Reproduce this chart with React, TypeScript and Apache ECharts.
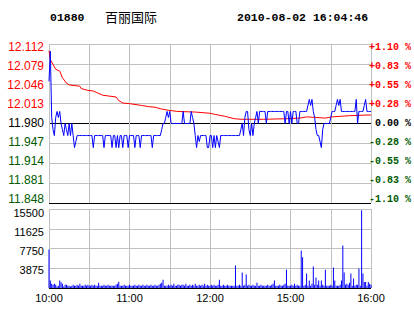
import React, { useEffect, useRef } from "react";
import * as echarts from "echarts";

const stockCode = "01880";
const stockName = "百丽国际";
const timestamp = "2010-08-02 16:04:46";

// minute index from 10:00 (morning 10:00-12:30, afternoon 14:30-16:00)
const timeTickLabels: Record<number, string> = { 0: "10:00", 60: "11:00", 120: "12:00", 180: "15:00", 240: "16:00" };

const priceTickLabels = ["11.848", "11.881", "11.914", "11.947", "11.980", "12.013", "12.046", "12.079", "12.112"];
const pctTickLabels = ["-1.10 %", "-0.83 %", "-0.55 %", "-0.28 %", "\u00a00.00 %", "+0.28 %", "+0.55 %", "+0.83 %", "+1.10 %"];
const volTickLabels = ["", "3875", "7750", "11625", "15500"];

const priceMin = 11.848;
const priceMax = 12.112;
const volMax = 15500;

const price = [
  12.05, 12.10, 11.99, 11.97, 11.96, 11.99, 12.00, 11.99, 12.00, 11.98,
  11.97, 11.96, 11.98, 11.97, 11.96, 11.98, 11.96, 11.98, 11.96, 11.94,
  11.95, 11.96, 11.96, 11.96, 11.96, 11.96, 11.96, 11.96, 11.96, 11.96,
  11.96, 11.96, 11.96, 11.94, 11.96, 11.96, 11.96, 11.96, 11.96, 11.96,
  11.96, 11.94, 11.96, 11.96, 11.96, 11.96, 11.96, 11.94, 11.96, 11.96,
  11.94, 11.96, 11.94, 11.96, 11.96, 11.94, 11.96, 11.96, 11.96, 11.94,
  11.96, 11.96, 11.96, 11.96, 11.94, 11.96, 11.96, 11.96, 11.94, 11.96,
  11.96, 11.96, 11.96, 11.96, 11.96, 11.96, 11.96, 11.94, 11.96, 11.96,
  11.96, 11.96, 11.96, 11.96, 11.97, 11.98, 11.98, 11.99, 12.00, 11.99,
  12.00, 11.98, 11.98, 11.98, 11.98, 11.98, 11.98, 11.98, 11.98, 11.98,
  12.00, 11.98, 11.98, 11.98, 11.98, 11.98, 12.00, 11.99, 11.98, 11.96,
  11.94, 11.96, 11.95, 11.96, 11.96, 11.96, 11.96, 11.96, 11.94, 11.94,
  11.96, 11.96, 11.94, 11.96, 11.94, 11.96, 11.95, 11.94, 11.96, 11.96,
  11.96, 11.96, 11.96, 11.96, 11.96, 11.96, 11.96, 11.96, 11.96, 11.96,
  11.96, 11.96, 11.96, 11.97, 11.98, 11.96, 11.99, 12.00, 12.00, 11.97,
  11.96, 11.98, 11.96, 11.98, 11.99, 12.00, 11.98, 12.00, 12.00, 12.00,
  12.00, 12.00, 11.98, 12.00, 12.00, 12.00, 12.00, 12.00, 12.00, 12.00,
  12.00, 12.00, 12.00, 12.00, 12.00, 12.00, 11.98, 12.00, 12.00, 11.98,
  12.00, 11.98, 12.00, 12.00, 12.00, 11.98, 11.98, 12.00, 12.00, 12.00,
  12.00, 12.00, 12.00, 12.01, 12.02, 12.01, 12.02, 12.00, 11.99, 11.97,
  11.96, 11.96, 11.95, 11.94, 11.97, 11.98, 11.98, 11.98, 11.98, 11.98,
  11.99, 12.00, 12.00, 12.00, 12.01, 12.02, 12.01, 12.02, 12.00, 12.00,
  12.00, 12.00, 12.00, 12.00, 12.00, 12.00, 12.00, 12.00, 12.00, 12.02,
  11.98, 12.00, 12.00, 12.00, 12.00, 12.01, 12.02, 12.00, 12.00, 12.00,
  12.00,
];

const avgMinutes = [0, 1, 3, 5, 8, 10, 13, 15, 23, 24, 29, 33, 36, 40, 50, 52, 55, 60, 69, 74, 79, 84, 89, 96, 109, 120, 124, 131, 138, 143, 160, 178, 187, 192, 206, 211, 224, 236, 240];
const avgPrice = [
  12.101, 12.086, 12.078, 12.07, 12.067, 12.056, 12.047, 12.044, 12.042, 12.038,
  12.035, 12.034, 12.031, 12.027, 12.024, 12.018, 12.014, 12.013, 12.01, 12.008,
  12.007, 12.004, 12.002, 12.0, 11.999, 11.997, 11.995, 11.992, 11.988, 11.987,
  11.987, 11.988, 11.989, 11.991, 11.989, 11.991, 11.993, 11.994, 11.994,
];

const volume = [
  7550, 1450, 850, 660, 850, 660, 300, 460, 1450, 1120,
  850, 300, 660, 660, 460, 460, 300, 460, 660, 460,
  460, 660, 460, 850, 460, 460, 460, 660, 460, 660,
  460, 460, 660, 460, 660, 460, 460, 1050, 460, 460,
  460, 660, 460, 460, 660, 460, 460, 460, 460, 460,
  660, 850, 1250, 460, 460, 460, 660, 460, 460, 460,
  660, 460, 460, 460, 660, 460, 460, 660, 460, 460,
  660, 460, 460, 660, 460, 460, 660, 460, 460, 660,
  460, 460, 660, 850, 1050, 1640, 460, 460, 460, 660,
  460, 660, 460, 850, 460, 460, 660, 660, 460, 660,
  660, 460, 850, 460, 460, 660, 460, 660, 460, 850,
  460, 460, 660, 460, 660, 460, 850, 460, 660, 460,
  460, 660, 460, 660, 460, 460, 660, 1640, 460, 460,
  660, 460, 460, 660, 460, 460, 460, 460, 460, 4400,
  460, 460, 660, 460, 3020, 460, 660, 2630, 460, 660,
  460, 460, 660, 460, 460, 1050, 460, 460, 660, 460,
  460, 460, 460, 660, 460, 460, 660, 850, 1450, 460,
  460, 460, 660, 460, 460, 660, 850, 3600, 460, 460,
  460, 660, 460, 850, 460, 660, 460, 460, 7360, 6050,
  460, 660, 2830, 460, 1450, 460, 850, 4200, 660, 2040,
  660, 1450, 460, 1450, 660, 460, 3600, 460, 460, 460,
  660, 460, 4000, 1450, 460, 460, 460, 660, 1450, 8340,
  3020, 660, 850, 660, 1050, 2830, 460, 1840, 460, 660,
  660, 3810, 460, 15240, 2830, 1180, 1180, 460, 1180, 850,
  660,
];

const RED = "#ff0000";
const GREEN = "#005a00";
const GRID = "#c0c0c0";
const BLUE = "#0000ff";

const colorBySign = (v: any) => {
  const n = Number(v);
  return n > 0 ? RED : n < 0 ? GREEN : "#000000";
};

export default function App() {
  const ref = useRef<HTMLDivElement>(null);
  useEffect(() => {
    if (!ref.current) return;
    const chart = echarts.init(ref.current, undefined, { renderer: "svg" });
    const hiddenAxis = { show: false };
    const lineColors9 = [
      "#000000", GRID, GRID, GRID, "#000000", GRID, GRID, GRID, GRID,
    ];
    chart.setOption({
      animation: false,
      backgroundColor: "#ffffff",
      grid: [
        { left: 49, top: 44, width: 322, height: 159 },
        { left: 49, top: 209, width: 322, height: 79 },
        { left: 49, top: 47, width: 322, height: 152 },
        { left: 49, top: 213, width: 322, height: 76 },
      ],
      xAxis: [
        {
          gridIndex: 0, type: "value", min: 0, max: 240, interval: 30,
          axisLine: { show: false }, axisTick: { show: false }, axisLabel: { show: false },
          splitLine: { show: true, lineStyle: { color: GRID, width: 1 } },
        },
        {
          gridIndex: 1, type: "value", min: 0, max: 240, interval: 30,
          axisLine: { show: false }, axisTick: { show: false },
          axisLabel: {
            show: true, margin: 4, color: "#000", fontFamily: "Liberation Sans", fontSize: 11,
            formatter: (v: number) => timeTickLabels[v] ?? "",
          },
          splitLine: { show: true, lineStyle: { color: GRID, width: 1 } },
        },
        { gridIndex: 2, type: "value", min: 0, max: 1, ...hiddenAxis },
        { gridIndex: 3, type: "value", min: 0, max: 1, ...hiddenAxis },
      ],
      yAxis: [
        { gridIndex: 0, type: "value", min: priceMin, max: priceMax, show: false, splitLine: { show: false } },
        {
          gridIndex: 0, type: "value", min: -4, max: 4, interval: 1, position: "left",
          axisLine: { show: false }, axisTick: { show: false }, axisLabel: { show: false },
          splitLine: { show: true, lineStyle: { color: lineColors9, width: 1 } },
        },
        {
          gridIndex: 1, type: "value", min: 0, max: volMax, interval: volMax / 4,
          axisLine: { show: false }, axisTick: { show: false }, axisLabel: { show: false },
          splitLine: { show: true, lineStyle: { color: ["#000000", GRID, GRID, GRID, GRID], width: 1 } },
        },
        {
          gridIndex: 2, type: "value", min: -4, max: 4, interval: 1, position: "left",
          axisLine: { show: false }, axisTick: { show: false }, splitLine: { show: false },
          axisLabel: {
            margin: 5, fontFamily: "Liberation Sans", fontSize: 12,
            color: colorBySign,
            formatter: (v: number) => priceTickLabels[Math.round(v) + 4],
          },
        },
        {
          gridIndex: 2, type: "value", min: -4, max: 4, interval: 1, position: "right",
          axisLine: { show: false }, axisTick: { show: false }, splitLine: { show: false },
          axisLabel: {
            margin: 1, fontFamily: "Liberation Mono", fontSize: 10, fontWeight: "bold",
            color: colorBySign,
            formatter: (v: number) => pctTickLabels[Math.round(v) + 4],
          },
        },
        {
          gridIndex: 3, type: "value", min: 0, max: volMax, interval: volMax / 4, position: "left",
          axisLine: { show: false }, axisTick: { show: false }, splitLine: { show: false },
          axisLabel: {
            margin: 5, fontFamily: "Liberation Sans", fontSize: 11, color: "#000",
            formatter: (v: number, i: number) => volTickLabels[i] ?? "",
          },
        },
      ],
      series: [
        {
          type: "line", xAxisIndex: 0, yAxisIndex: 0, symbol: "none",
          lineStyle: { color: RED, width: 1 },
          data: avgMinutes.map((m, i) => [m, avgPrice[i]]),
          z: 3,
        },
        {
          type: "line", xAxisIndex: 0, yAxisIndex: 0, symbol: "none",
          lineStyle: { color: BLUE, width: 1 },
          data: price.map((p, i) => [i, p]),
          z: 4,
        },
        {
          type: "bar", xAxisIndex: 1, yAxisIndex: 2, barWidth: 1,
          itemStyle: { color: BLUE },
          data: volume.map((v, i) => [i, v]),
        },
      ],
      graphic: [
        { type: "text", x: 50, y: 17, style: { text: stockCode, font: 'bold 11.5px "Liberation Mono"', fill: "#000", verticalAlign: "middle" } },
        { type: "text", x: 105, y: 16, style: { text: stockName, font: '13px "Noto Sans CJK SC"', fill: "#000", verticalAlign: "middle" } },
        { type: "text", x: 237, y: 17, style: { text: timestamp, font: 'bold 11.5px "Liberation Mono"', fill: "#000", verticalAlign: "middle" } },
      ],
    });
    return () => chart.dispose();
  }, []);
  return (
    <div
      ref={ref}
      style={{ position: "fixed", left: 0, top: 0, width: 414, height: 314, background: "#fff" }}
    />
  );
}
